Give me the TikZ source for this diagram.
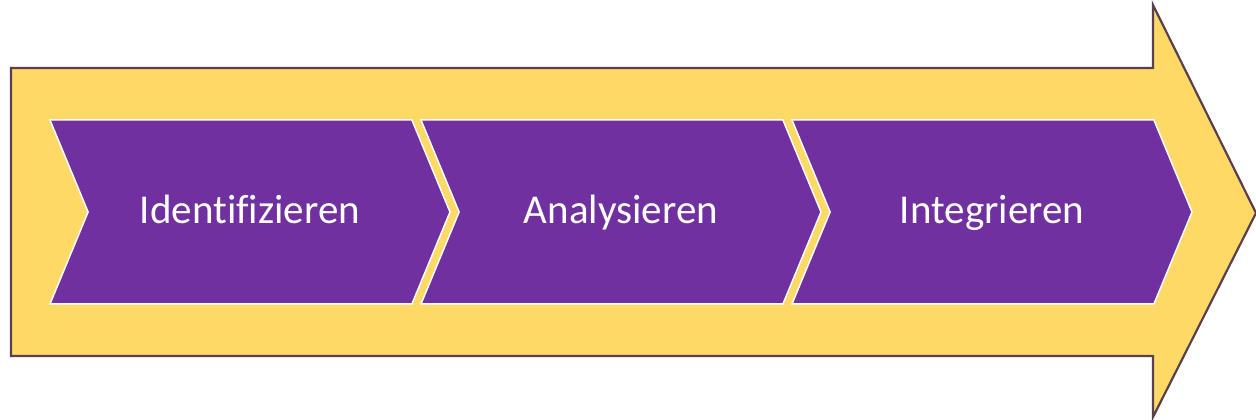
\documentclass[tikz,border=0pt]{standalone}
\usepackage{fontspec}
\setmainfont{Carlito}[Ligatures=CommonOff]
\usetikzlibrary{shapes.symbols,positioning}
\definecolor{stepviolet}{HTML}{7030A0}
\definecolor{bandyellow}{HTML}{FFD966}
\definecolor{bandline}{HTML}{5A3F4F}
\tikzset{
    band/.style={
           fill=bandyellow,
           draw=bandline, line width=2.2pt,
           line join=miter
           },
    phase/.style={
           signal, signal to=east, signal from=west,
           signal pointer angle=135,
           fill=stepviolet,
           draw=white, line width=1.5pt,
           minimum width=400pt,
           minimum height=184pt,
           inner sep=0pt, outer sep=0pt,
           text=white,
           text height=23pt, text depth=0pt,
           font=\fontsize{41}{45}\selectfont
           }
}
\begin{document}
\begin{tikzpicture}[x=1pt, y=1pt, node distance=371pt, on grid]
   \useasboundingbox (0,0) rectangle (1256,420);
   % large arrow in the back
   \draw[band] (11,352) -- (1153,352) -- (1153,415) -- (1256,207)
       -- (1153,3) -- (1153,64) -- (11,64) -- cycle;

   \node[phase] (ident) at (250,208) {Identifizieren};
   \node[phase] (analyse) [right=of ident] {Analysieren};
   \node[phase] (integr) [right=of analyse] {Integrieren};
\end{tikzpicture}
\end{document}
